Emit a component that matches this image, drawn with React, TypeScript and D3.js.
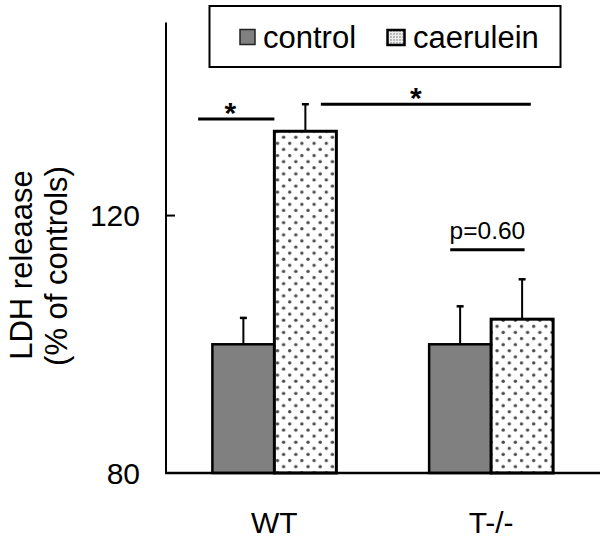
import React from "react";
import * as d3 from "d3";

const groups = ["WT", "T-/-"];
const seriesNames = ["control", "caerulein"];
const controlValues = [100, 100];
const caeruleinValues = [133.1, 103.9];
const controlErrors = [4.1, 5.9];
const caeruleinErrors = [4.2, 6.2];
const yTicks = [80, 120];
const yDomain = [80, 150];
// significance annotations: level in data units
const sigLabels = ["*", "*", "p=0.60"];
const sigLevels = [135, 137.3, 114.7];

const W = 604;
const H = 538;
const FONT = "'Liberation Sans', Arial, sans-serif";

export default function App() {
  const axisX = 166;
  const y = d3.scaleLinear().domain(yDomain).range([473, 22.5]);
  const x0 = d3.scaleBand<string>().domain(groups).range([166, 599.5]).padding(0);
  const bw = x0.bandwidth() * 0.286;
  const center = (g: string) => (x0(g) as number) + x0.bandwidth() / 2;
  const x1 = d3.scaleBand<string>().domain(seriesNames).range([-bw, bw]).padding(0);

  const valuesBy: Record<string, number[]> = { control: controlValues, caerulein: caeruleinValues };
  const errorsBy: Record<string, number[]> = { control: controlErrors, caerulein: caeruleinErrors };

  const cWT = center(groups[0]);
  const cT = center(groups[1]);
  const sigSpans: [number, number][] = [
    [cWT - 1.23 * bw, cWT],
    [cWT + 0.75 * bw, cT + 0.64 * bw],
    [cT - 0.66 * bw, cT + 0.54 * bw],
  ];

  return (
    <svg width={W} height={H} style={{ position: "absolute", left: 0, top: 0 }} fontFamily={FONT}>
      <defs>
        <pattern id="dots" patternUnits="userSpaceOnUse" width={12.2} height={12.2}>
          <rect width={12.2} height={12.2} fill="#fff" />
          <circle cx={3} cy={3} r={1.7} fill="#4a4a4a" />
          <circle cx={9.1} cy={9.1} r={1.7} fill="#4a4a4a" />
        </pattern>
        <pattern id="dotsSmall" patternUnits="userSpaceOnUse" width={3} height={3}>
          <rect width={3} height={3} fill="#eee" />
          <circle cx={1} cy={1} r={0.8} fill="#777" />
        </pattern>
      </defs>
      <rect width={W} height={H} fill="#fff" />

      {/* bars */}
      {groups.map((g, gi) =>
        seriesNames.map((s) => {
          const v = valuesBy[s][gi];
          const e = errorsBy[s][gi];
          const bx = center(g) + (x1(s) as number);
          const cx = bx + x1.bandwidth() / 2;
          return (
            <g key={g + s}>
              <line x1={cx} x2={cx} y1={y(v)} y2={y(v + e)} stroke="#000" strokeWidth={2} />
              <line x1={cx - 3.5} x2={cx + 3.5} y1={y(v + e)} y2={y(v + e)} stroke="#000" strokeWidth={2.5} />
              <rect
                x={bx}
                y={y(v)}
                width={x1.bandwidth()}
                height={y(yDomain[0]) - y(v)}
                fill={s === "control" ? "#808080" : "url(#dots)"}
                stroke="#000"
                strokeWidth={s === "control" ? 2.5 : 3}
              />
            </g>
          );
        })
      )}

      {/* axes */}
      <line x1={axisX} x2={axisX} y1={y(yDomain[1])} y2={y(yDomain[0])} stroke="#000" strokeWidth={2} />
      <line x1={axisX - 1} x2={600} y1={y(yDomain[0])} y2={y(yDomain[0])} stroke="#000" strokeWidth={2.5} />
      {yTicks.map((t) => (
        <g key={t}>
          <line x1={axisX} x2={axisX + 9} y1={y(t)} y2={y(t)} stroke="#000" strokeWidth={2} />
          <text x={140} y={y(t)} dy="0.36em" textAnchor="end" fontSize={30} fill="#000">
            {t}
          </text>
        </g>
      ))}
      {groups.map((g) => (
        <text key={g} x={center(g)} y={533} textAnchor="middle" fontSize={30} fill="#000">
          {g}
        </text>
      ))}

      {/* y label */}
      <text transform="translate(32,265) rotate(-90)" textAnchor="middle" fontSize={31} fill="#000">
        LDH releaase
      </text>
      <text transform="translate(67,266) rotate(-90)" textAnchor="middle" fontSize={31} fill="#000">
        (% of controls)
      </text>

      {/* significance */}
      {sigLabels.map((lab, i) => {
        const [a, b] = sigSpans[i];
        const ly = y(sigLevels[i]);
        const isStar = lab === "*";
        return (
          <g key={i}>
            <line x1={a} x2={b} y1={ly} y2={ly} stroke="#000" strokeWidth={3} />
            <text
              x={isStar ? (i === 0 ? (a + b) / 2 - 6 : (a + b) / 2 - 10) : (a + b) / 2}
              y={isStar ? ly + 4 : ly - 11}
              textAnchor="middle"
              fontSize={isStar ? 30 : 24.5}
              fontWeight={isStar ? "bold" : "normal"}
              fill="#000"
            >
              {lab}
            </text>
          </g>
        );
      })}

      {/* legend */}
      <rect x={209.5} y={6} width={351} height={61} fill="#fff" stroke="#000" strokeWidth={2} />
      <rect x={240} y={29.5} width={15} height={15} fill="#808080" stroke="#222" strokeWidth={1.5} />
      <text x={263} y={48} fontSize={31} fill="#000">
        {seriesNames[0]}
      </text>
      <rect x={387.5} y={30} width={17} height={15} fill="url(#dotsSmall)" stroke="#000" strokeWidth={2.5} />
      <text x={413} y={48} fontSize={31} fill="#000">
        {seriesNames[1]}
      </text>
    </svg>
  );
}
